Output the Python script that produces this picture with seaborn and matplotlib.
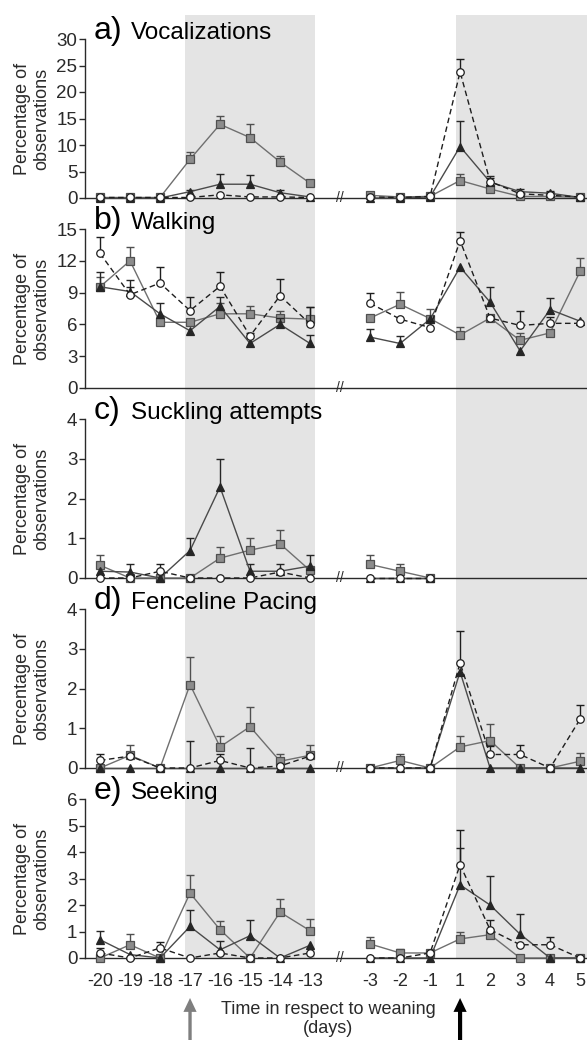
import numpy as np
import pandas as pd
import matplotlib
matplotlib.use("Agg")
import matplotlib.pyplot as plt
import matplotlib.transforms as mtransforms
from matplotlib.patches import Rectangle
import seaborn as sns

nan = np.nan

# days shown on the x axis (two blocks with a break between them)
day_labels = [-20, -19, -18, -17, -16, -15, -14, -13, -3, -2, -1, 1, 2, 3, 4, 5]

panel_letters = ["a)", "b)", "c)", "d)", "e)"]
panel_names = ["Vocalizations", "Walking", "Suckling attempts", "Fenceline Pacing", "Seeking"]
y_max = [30, 15, 4, 4, 6]
y_step = [5, 3, 1, 1, 1]

# --- a) Vocalizations ---
sq_a = [0.1, 0.1, 0.1, 7.3, 13.9, 11.4, 6.8, 2.8, 0.5, 0.2, 0.3, 3.3, 1.7, 0.3, 0.3, 0.1]
sq_a_top = [nan, nan, nan, 8.7, 15.4, 13.9, 7.9, 3.4, 0.8, nan, nan, 4.6, nan, nan, nan, nan]
tri_a = [0, 0, 0, 1.2, 2.6, 2.6, 1.0, 0.2, 0, 0, 0.2, 9.7, 3.0, 1.2, 0.9, 0.1]
tri_a_top = [nan, nan, nan, 1.6, 4.5, 4.3, 1.5, nan, nan, nan, nan, 14.6, 4.1, 1.7, 1.4, nan]
circ_a = [0.1, 0.1, 0.1, 0.1, 0.6, 0.2, 0.2, 0.1, 0.2, 0.1, 0.3, 23.8, 3.1, 0.8, 0.5, 0.2]
circ_a_top = [nan, nan, nan, nan, nan, nan, nan, nan, nan, nan, nan, 26.3, 3.8, nan, nan, nan]

# --- b) Walking ---
sq_b = [9.55, 12.0, 6.2, 6.2, 7.0, 7.0, 6.6, 6.5, 6.6, 7.9, 6.55, 5.0, 6.6, 4.5, 5.2, 11.0]
sq_b_top = [10.5, 13.3, nan, nan, 8.0, 7.7, 7.3, 7.6, nan, 9.1, 7.5, 5.8, nan, 5.2, nan, 12.3]
tri_b = [9.55, 9.1, 7.0, 5.4, 7.7, 4.2, 6.0, 4.2, 4.8, 4.2, 6.5, 11.4, 8.1, 3.5, 7.4, 6.3]
tri_b_top = [10.9, 10.2, 8.0, nan, 8.6, nan, 6.6, 5.0, 5.6, 4.9, nan, nan, 9.5, nan, 8.5, nan]
circ_b = [12.7, 8.8, 9.9, 7.3, 9.6, 4.9, 8.7, 6.05, 8.0, 6.5, 5.7, 13.9, 6.6, 5.9, 6.1, 6.1]
circ_b_top = [14.2, 9.5, 11.4, 8.6, 10.9, 5.2, 10.3, 7.6, 9.0, nan, 6.3, 14.7, nan, 7.3, 6.7, nan]

# --- c) Suckling attempts (no observations after weaning) ---
sq_c = [0.32, 0, 0, 0, 0.5, 0.7, 0.86, 0.19, 0.34, 0.17, 0, nan, nan, nan, nan, nan]
sq_c_top = [0.57, nan, nan, nan, 0.78, 1.0, 1.2, nan, 0.57, 0.34, nan, nan, nan, nan, nan, nan]
tri_c = [0.17, 0.15, 0, 0.69, 2.29, 0.17, 0.17, 0.3, 0, 0, 0, nan, nan, nan, nan, nan]
tri_c_top = [nan, 0.34, nan, 1.0, 3.0, 0.34, 0.34, 0.57, nan, nan, nan, nan, nan, nan, nan, nan]
circ_c = [0, 0, 0.17, 0, 0, 0, 0.15, 0, 0, 0, 0, nan, nan, nan, nan, nan]
circ_c_top = [nan, nan, 0.34, nan, nan, nan, nan, nan, nan, nan, nan, nan, nan, nan, nan, nan]

# --- d) Fenceline Pacing ---
sq_d = [0, 0.32, 0, 2.1, 0.53, 1.04, 0.17, 0.32, 0, 0.19, 0, 0.53, 0.69, 0, 0, 0.17]
sq_d_top = [nan, 0.58, nan, 2.8, 0.8, 1.54, 0.34, 0.58, nan, 0.34, nan, 0.8, 1.1, nan, nan, 0.38]
tri_d = [0, 0, 0, 0, 0, 0, 0, 0, 0, 0, 0, 2.42, 0, 0, 0, 0]
tri_d_top = [nan, nan, nan, 0.68, nan, 0.5, nan, nan, nan, nan, nan, nan, nan, nan, nan, nan]
circ_d = [0.19, 0.3, 0, 0, 0.19, 0, 0.05, 0.3, 0, 0, 0, 2.64, 0.34, 0.34, 0, 1.23]
circ_d_top = [0.36, nan, nan, nan, 0.36, nan, nan, nan, nan, nan, nan, 3.45, 0.55, 0.57, nan, 1.58]

# --- e) Seeking ---
sq_e = [0, 0.5, 0, 2.45, 1.07, 0, 1.73, 1.03, 0.53, 0.19, 0.19, 0.72, 0.88, 0, 0, 0]
sq_e_top = [nan, 0.9, nan, 3.14, 1.4, nan, 2.24, 1.48, 0.8, 0.34, nan, 1.0, nan, nan, nan, nan]
tri_e = [0.69, 0.13, 0, 1.19, 0.31, 0.84, 0, 0.48, 0, 0, 0, 2.76, 2.0, 0.9, 0, 0]
tri_e_top = [1.03, nan, nan, 1.82, 0.65, 1.44, nan, nan, nan, nan, nan, 4.15, 3.08, 1.67, nan, nan]
circ_e = [0.19, 0, 0.38, 0, 0.19, 0, 0, 0.19, 0, 0, 0.19, 3.52, 1.07, 0.5, 0.5, 0]
circ_e_top = [0.38, nan, 0.6, nan, nan, nan, nan, nan, nan, nan, nan, 4.84, 1.44, nan, 0.8, nan]

panels = [
    (sq_a, sq_a_top, tri_a, tri_a_top, circ_a, circ_a_top),
    (sq_b, sq_b_top, tri_b, tri_b_top, circ_b, circ_b_top),
    (sq_c, sq_c_top, tri_c, tri_c_top, circ_c, circ_c_top),
    (sq_d, sq_d_top, tri_d, tri_d_top, circ_d, circ_d_top),
    (sq_e, sq_e_top, tri_e, tri_e_top, circ_e, circ_e_top),
]

# style of the three series: squares, triangles, open circles
series_style = [
    dict(color="#6f6f6f", marker="s", markersize=5.4, markerfacecolor="#8c8c8c",
         markeredgecolor="#505050", linestyle="-", zorder=3),
    dict(color="#4a4a4a", marker="^", markersize=6.2, markerfacecolor="#262626",
         markeredgecolor="#262626", linestyle="-", zorder=4),
    dict(color="#1e1e1e", marker="o", markersize=5.4, markerfacecolor="white",
         markeredgecolor="#1e1e1e", linestyle=(0, (4, 2.5)), zorder=5),
]

SHADE = "#e4e4e4"
AX_COL = "#2a2a2a"


def draw_chart():
    sns.set_style("ticks")
    plt.rcParams["font.family"] = ["Liberation Sans", "DejaVu Sans"]

    fig = plt.figure(figsize=(5.87, 10.4), dpi=100)
    H = 1040.0
    W = 587.0

    # x positions with a one-slot gap between the two blocks of days
    pos = np.r_[np.arange(8), np.arange(9, 17)].astype(float)
    seg = np.r_[np.zeros(8), np.ones(8)]
    xlim = (-0.5, 16.23)

    axes = []
    for i in range(5):
        zero_px = 198 + 190 * i
        ax = fig.add_axes([85 / W, 1 - zero_px / H, 1 - 85 / W, 159 / H])
        ax.set_facecolor("none")
        axes.append(ax)

        vals = panels[i]
        for k, st in enumerate(series_style):
            v = np.array(vals[2 * k], dtype=float)
            top = np.array(vals[2 * k + 1], dtype=float)
            df = pd.DataFrame({"pos": pos, "val": v, "seg": seg}).dropna(subset=["val"])

            # upward-only error bars
            m = ~np.isnan(top)
            ax.vlines(pos[m], v[m], top[m], color=st["markeredgecolor"], lw=1.0,
                      zorder=st["zorder"] - 0.5, clip_on=False)
            ax.plot(pos[m], top[m], linestyle="none", marker="_", markersize=6,
                    markeredgewidth=1.0, color=st["markeredgecolor"],
                    zorder=st["zorder"] - 0.5, clip_on=False)

            sns.lineplot(data=df, x="pos", y="val", units="seg", estimator=None,
                         ax=ax, color=st["color"], marker=st["marker"],
                         markersize=st["markersize"], markerfacecolor=st["markerfacecolor"],
                         markeredgecolor=st["markeredgecolor"], markeredgewidth=0.9,
                         linestyle=st["linestyle"], linewidth=1.0, zorder=st["zorder"],
                         clip_on=False, legend=False)

        ax.set_xlim(*xlim)
        ax.set_ylim(0, y_max[i])
        ax.set_yticks(np.arange(0, y_max[i] + 0.01, y_step[i]))
        ax.set_xticks(pos)
        if i == 4:
            ax.set_xticklabels([str(d) for d in day_labels])
        else:
            ax.set_xticklabels([])
        ax.tick_params(axis="x", length=0, pad=11, labelsize=13, colors=AX_COL)
        ax.tick_params(axis="y", length=4.5, width=1.0, pad=1, labelsize=13.5, colors=AX_COL)
        for side in ["top", "right"]:
            ax.spines[side].set_visible(False)
        for side in ["left", "bottom"]:
            ax.spines[side].set_color(AX_COL)
            ax.spines[side].set_linewidth(1.0)

        ax.set_xlabel("")
        ax.set_ylabel("Percentage of\nobservations", fontsize=13, color=AX_COL, linespacing=1.15)
        ax.yaxis.set_label_coords(-0.07, 0.5)

        # axis break mark
        ax.text(8, 0, "//", ha="center", va="center", fontsize=10, color=AX_COL, clip_on=False)

        # panel title
        ax.text(0.018, 1.0, panel_letters[i], transform=ax.transAxes, fontsize=23,
                ha="left", va="baseline", color="black")
        ax.text(0.092, 1.0, panel_names[i], transform=ax.transAxes, fontsize=17.5,
                ha="left", va="baseline", color="black")

    # shaded periods spanning all panels
    p17 = pos[day_labels.index(-17)]
    p13 = pos[day_labels.index(-13)]
    p1 = pos[day_labels.index(1)]
    trans = mtransforms.blended_transform_factory(axes[-1].transData, fig.transFigure)
    y_bot = 1 - (198 + 190 * 4) / H
    y_top = 1 - 15 / H
    for x0, x1 in [(p17 - 0.17, p13 + 0.17), (p1 - 0.15, xlim[1])]:
        fig.add_artist(Rectangle((x0, y_bot), x1 - x0, y_top - y_bot, transform=trans,
                                 facecolor=SHADE, edgecolor="none", zorder=-1))

    # x axis title
    fig.text(328 / W, 1 - 1001 / H, "Time in respect to weaning\n(days)", ha="center", va="top",
             fontsize=13, color=AX_COL, linespacing=1.15)

    # arrows marking the two events
    ax = axes[-1]
    for x, col, w in [(p17, "#7f7f7f", 2.4), (p1, "black", 3.0)]:
        ax.annotate("", xy=(x, 1 - 998 / H), xytext=(x, 0.0),
                    xycoords=("data", "figure fraction"), textcoords=("data", "figure fraction"),
                    arrowprops=dict(facecolor=col, edgecolor="none", width=w,
                                    headwidth=9.5, headlength=10, shrink=0))

    fig.savefig("out.png", dpi=100)
    plt.close(fig)


if __name__ == "__main__":
    draw_chart()
